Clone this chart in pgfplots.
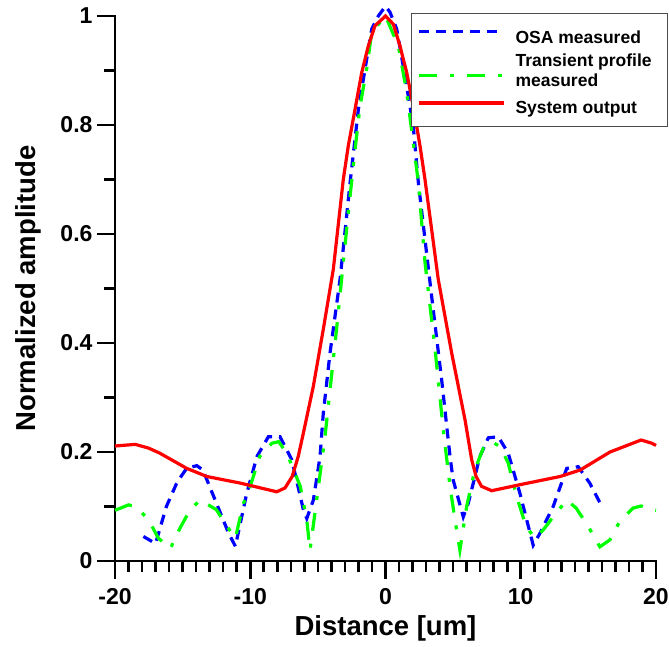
\documentclass[border=0pt]{standalone}
\usepackage{fontspec}
\setmainfont{Liberation Sans}
\usepackage{pgfplots}
\pgfplotsset{compat=1.18}
\pgfplotsset{lowlegend/.style={legend image code/.code={\draw[##1] (0pt,-0.45em) -- (85pt,-0.45em);}}}
\begin{document}
\begin{tikzpicture}
\useasboundingbox (-115pt,-85pt) rectangle (554pt,561pt);
\begin{axis}[
 scale only axis, width=541pt, height=545pt,
 xmin=-20, xmax=20, ymin=0, ymax=1,
 axis lines=left, axis line style={-, line width=2.6pt, line cap=rect},
 clip=false,
 xtick={-20,-10,0,10,20}, minor x tick num=9,
 ytick={0,0.2,0.4,0.6,0.8,1}, minor y tick num=1,
 tick align=outside, major tick length=18pt, minor tick length=11pt,
 major tick style={black, line width=2.6pt},
 minor tick style={black, line width=2.6pt},
 /pgf/number format/assume math mode=true,
 tick label style={font=\bfseries\fontsize{23}{25}\selectfont},
 xticklabel style={yshift=-6pt},
 yticklabel style={xshift=-1pt},
 xlabel={Distance [um]},
 ylabel={Normalized amplitude},
 label style={font=\bfseries\fontsize{27.5}{30}\selectfont},
 xlabel style={yshift=-4pt},
 ylabel style={yshift=12pt},
 legend cell align=left,
 legend style={at={(1.0225,1.005)}, anchor=north east, draw=black!70, line width=1pt,
   font=\bfseries\fontsize{17.5}{19.5}\selectfont, inner xsep=6pt, inner ysep=9pt,
   row sep=5pt, fill=white, cells={align=left},
   /tikz/every odd column/.append style={column sep=8pt}},
 legend image code/.code={\draw[#1] (0pt,0.6ex) -- (85pt,0.6ex);},
]
\addplot[blue, line width=3.2pt, dash pattern=on 10pt off 7pt] coordinates {
(-17.9,0.045) (-17.0,0.032) (-16.2,0.10) (-15.4,0.145) (-14.7,0.17) (-13.95,0.175) (-13.5,0.167)
(-12.5,0.106) (-11.6,0.051) (-11.1,0.027) (-10.26,0.124) (-9.5,0.192) (-8.66,0.228) (-7.8,0.228)
(-6.93,0.186) (-6.07,0.094) (-5.82,0.078) (-5.33,0.112) (-4.84,0.192) (-4.6,0.271) (-4.1,0.382)
(-3.36,0.517) (-2.62,0.694) (-2.0,0.83) (-1.02,0.976) (-0.53,1.0) (0,1.018) (0.33,1.007)
(0.83,0.976) (1.44,0.89) (2.05,0.798) (2.43,0.694) (3.41,0.486) (4.15,0.333) (4.77,0.192)
(5.0,0.149) (5.75,0.081) (6.12,0.106) (6.98,0.192) (7.6,0.226) (8.34,0.228) (9.07,0.198)
(9.94,0.124) (10.92,0.029) (11.42,0.051) (12.4,0.10) (13.4,0.17) (14.25,0.173) (15.1,0.143) (16.0,0.10)
};
\addlegendentry{\rule{0pt}{19pt}OSA measured}
\addplot[green, line width=3.2pt, dash pattern=on 18pt off 13pt on 4pt off 13pt, lowlegend] coordinates {
(-20,0.093) (-19.0,0.103) (-18.4,0.099) (-17.5,0.075) (-16.8,0.042) (-15.9,0.023) (-15.2,0.06)
(-14.45,0.094) (-13.7,0.112) (-12.5,0.094) (-11.7,0.063) (-11.1,0.042) (-10.5,0.106) (-10.0,0.137)
(-9.3,0.192) (-8.4,0.216) (-7.9,0.219) (-7.3,0.198) (-6.3,0.137) (-5.82,0.075) (-5.58,0.02)
(-5.1,0.11) (-4.47,0.229) (-3.6,0.43) (-2.75,0.639) (-2.25,0.755) (-1.88,0.835) (-1.39,0.903)
(-1.02,0.97) (0,1.0) (0.95,0.945) (1.57,0.86) (2.05,0.768) (2.43,0.694) (2.92,0.548) (3.7,0.38)
(4.27,0.241) (4.77,0.137) (5.14,0.075) (5.5,0.02) (6.0,0.1) (6.6,0.167) (7.23,0.207) (7.85,0.219)
(8.46,0.21) (9.07,0.18) (9.7,0.118) (10.4,0.063) (11.05,0.042) (11.66,0.057) (12.4,0.081)
(13.4,0.112) (14.1,0.097) (15.0,0.063) (15.85,0.026) (16.6,0.039) (17.3,0.072) (18.3,0.097)
(18.9,0.101) (19.55,0.095) (20,0.093)
};
\addlegendentry{Transient profile\hspace*{8pt}\\measured}
\addplot[red, line width=3.2pt] coordinates {
(-20,0.211) (-18.5,0.214) (-17.5,0.207) (-16.7,0.198) (-14.7,0.170) (-13.2,0.155) (-10.75,0.143)
(-8.04,0.127) (-7.43,0.134) (-6.9,0.155) (-6.45,0.192) (-6.07,0.235) (-5.34,0.32) (-4.6,0.425)
(-3.86,0.535) (-3.12,0.70) (-2.75,0.762) (-2.25,0.829) (-1.76,0.896) (-1.27,0.945) (-0.78,0.982)
(0,1.0) (0.58,0.985) (1.07,0.945) (1.57,0.896) (2.05,0.835) (2.55,0.762) (2.92,0.70) (3.9,0.517)
(4.89,0.382) (5.88,0.259) (6.37,0.186) (6.7,0.155) (7.1,0.137) (7.85,0.129) (9.94,0.14)
(12.9,0.155) (14.4,0.167) (16.6,0.20) (18.9,0.222) (19.7,0.216) (20,0.212)
};
\addlegendentry{\rule{0pt}{17pt}System output}
\end{axis}
\end{tikzpicture}
\end{document}
